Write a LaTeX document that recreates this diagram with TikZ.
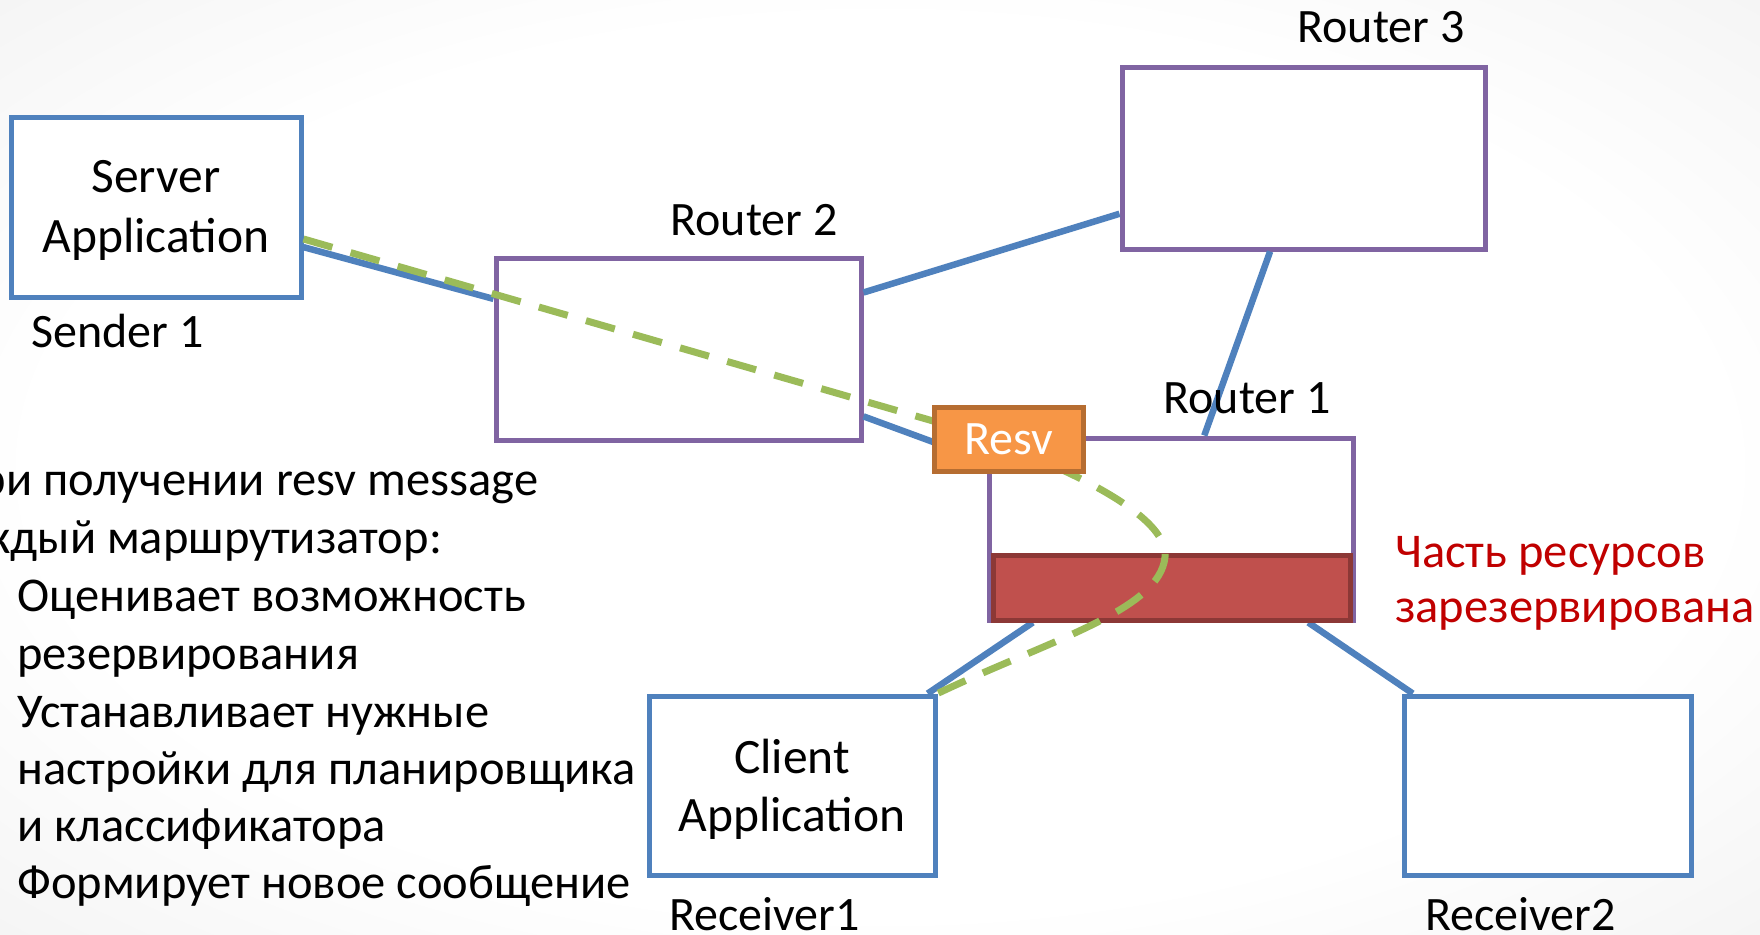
\documentclass[tikz,border=0pt]{standalone}
\usepackage{fontspec}
\setmainfont{Carlito}
\usetikzlibrary{calc}

\definecolor{linkblue}{HTML}{4F81BD}
\definecolor{routerpurple}{HTML}{8064A2}
\definecolor{pathgreen}{HTML}{9BBB59}
\definecolor{resvfill}{HTML}{F79646}
\definecolor{resvdraw}{HTML}{B66D31}
\definecolor{barfill}{HTML}{C0504D}
\definecolor{bardraw}{HTML}{8C3836}
\definecolor{notered}{HTML}{C00000}

% soft page background: white centre, light grey towards the edges
\pgfdeclareradialshading{pagebg}{\pgfpoint{0bp}{0bp}}{%
  color(0bp)=(white); color(24bp)=(white); color(50bp)=(black!9); color(80bp)=(black!9)}

\begin{document}
\begin{tikzpicture}[x=1pt,y=-1pt,
  hostbox/.style={draw=linkblue, line width=5pt, fill=white, inner sep=0pt},
  routerbox/.style={draw=routerpurple, line width=5pt, fill=white, inner sep=0pt},
  resvbar/.style={draw=bardraw, line width=5pt, fill=barfill, inner sep=0pt},
  resvtag/.style={draw=resvdraw, line width=5pt, fill=resvfill, inner sep=0pt,
    text=white, font=\fontsize{48}{58}\selectfont},
  link/.style={draw=linkblue, line width=6.5pt},
  flow/.style={draw=pathgreen, line width=7pt, dash pattern=on 30pt off 19pt},
  lbl/.style={font=\fontsize{48}{58}\selectfont, inner sep=0pt, anchor=base west},
  listtxt/.style={font=\fontsize{48.5}{58}\selectfont, inner sep=0pt, anchor=base west},
  boxtxt/.style={font=\fontsize{49.5}{58}\selectfont, inner sep=0pt, anchor=base},
  note/.style={listtxt, text=notered}]

  \useasboundingbox (0,0) rectangle (1760,934);
  \shade[shading=pagebg] (0,0) rectangle (1760,934);

  % hosts and routers
  \node[hostbox, minimum width=290pt, minimum height=180pt] (srv) at (156,207) {};
  \node[routerbox, minimum width=365pt, minimum height=182pt] (r2) at (678.5,349) {};
  \node[routerbox, minimum width=363pt, minimum height=182pt] (r3) at (1303.5,158) {};
  \node[routerbox, minimum width=364pt, minimum height=182pt] (r1) at (1171,529) {};
  \node[hostbox, minimum width=286pt, minimum height=179pt] (cli) at (792,785.5) {};
  \node[hostbox, minimum width=287pt, minimum height=179pt] (rcv2) at (1547.5,785.5) {};

  % links between the boxes
  \draw[link] (srv) -- (r2);
  \draw[link] (r2) -- (r3);
  \draw[link] (r3) -- (r1);
  \draw[link] (r2) -- (r1);
  \draw[link] (r1) -- (cli);
  \draw[link] (r1) -- (rcv2);

  % reserved share of the router resources
  \node[resvbar, minimum width=357pt, minimum height=65pt] (bar) at (1171.5,588) {};

  % path of the reservation message
  \draw[flow] ([yshift=-32pt]srv.east) -- (940,423)
    .. controls (1010,445) and (1170,505) .. (1165,557)
    .. controls (1160,610) and (1050,640) .. (cli.north east);

  \node[resvtag, minimum width=149pt, minimum height=64pt] (resv) at (1009,439.5) {Resv};

  % labels
  \node[boxtxt] (srvl1) at (156,192) {Server};
  \node[boxtxt] (srvl2) at (156,252) {Application};
  \node[boxtxt] (clil1) at (792,773) {Client};
  \node[boxtxt] (clil2) at (792,831) {Application};
  \node[lbl] (sender) at (31,347) {Sender 1};
  \node[lbl, anchor=base] (r2l) at (754,235) {Router 2};
  \node[lbl, anchor=base] (r3l) at (1381,43) {Router 3};
  \node[lbl, anchor=base] (r1l) at (1247,413) {Router 1};
  \node[lbl] (rcv1l) at (669,930) {Receiver1};
  \node[lbl] (rcv2l) at (1425,930) {Receiver2};

  \node[note] (note1) at (1395,567) {Часть ресурсов};
  \node[note] (note2) at (1395,622) {зарезервирована};

  % router behaviour on a resv message
  \node[listtxt] (t1) at (43,495) {\llap{При }получении resv message};
  \node[listtxt] (t2) at (107,553) {\llap{Каждый }маршрутизатор:};
  \node[listtxt] (t3) at (17,611) {Оценивает возможность};
  \node[listtxt] (t4) at (17,669) {резервирования};
  \node[listtxt] (t5) at (17,727) {Устанавливает нужные};
  \node[listtxt] (t6) at (17,784) {настройки для планировщика};
  \node[listtxt] (t7) at (17,841) {и классификатора};
  \node[listtxt] (t8) at (17,898) {Формирует новое сообщение};
\end{tikzpicture}
\end{document}
